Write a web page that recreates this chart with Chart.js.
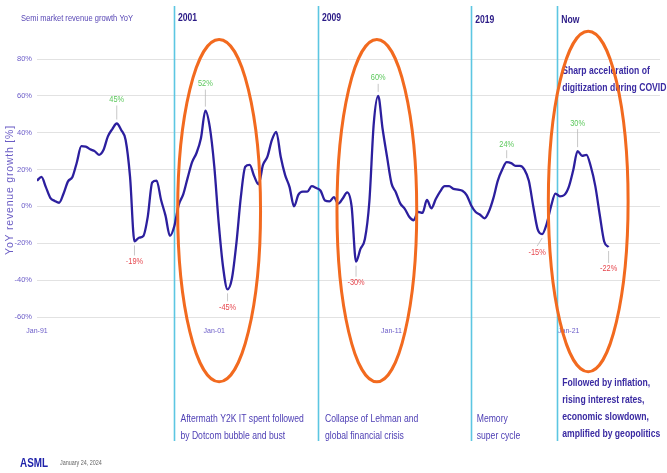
<!DOCTYPE html>
<html>
<head>
<meta charset="utf-8">
<script src="https://cdn.jsdelivr.net/npm/chart.js@4/dist/chart.umd.min.js"></script>
<style>
  html, body { margin: 0; padding: 0; background: #ffffff; }
  #wrap { width: 667px; height: 473px; position: relative; }
</style>
</head>
<body>
<div id="wrap"><canvas id="chart" width="667" height="473"></canvas></div>
<script>
// Semiconductor market revenue growth, year over year (%), one value per quarter from Jan-91
const growth = [
  14, 16, 10.5, 4.7, 3, 2, 7, 13.6, 16, 24,
  32.7, 32.5, 31, 30, 28, 30.6, 38, 42, 45, 41.5,
  36, 16, -19, -17, -16, -5.5, 13, 14, 3.5, -5,
  -16, -10.6, 1, 6.5, 15.5, 24, 29, 37, 52, 43,
  22, -8.8, -33, -45, -39, -20, 5, 21.5, 22.5, 16.5,
  12, 22.5, 27, 36, 40.5, 27, 17, 10.5, 0, 6.4,
  8, 8, 11, 10, 8.5, 3.2, 2.7, 5, 1.5, 4.3,
  7.6, 0, -30, -23, -17.7, 2.4, 45, 60, 42, 26.9,
  12.5, 7.6, 1.5, -1.3, -5.6, -7.5, -3, -3.5, 3.5, -1,
  4, 8.2, 11, 11, 9.5, 9.1, 8.5, 6, 0.5, -3,
  -4.5, -6.5, -2.7, 4.5, 14, 20, 24, 23.5, 22, 22,
  20, 13.9, 0, -12.5, -15, -9.7, 0, 7, 5.5, 6.2,
  10.5, 19.5, 30, 27.5, 28, 21.5, 11, -4.5, -19, -22
];

// Axis ticks (x in quarters since Jan-91)
const xTickValues = [0, 40, 80, 120];
const xTickLabels = ['Jan-91', 'Jan-01', 'Jan-11', 'Jan-21'];
const yTickValues = [-60, -40, -20, 0, 20, 40, 60, 80];

// Quarters whose values are called out on the curve
const calloutIndex = [18, 22, 38, 43, 72, 77, 106, 114, 122, 129];

// Era markers: label and quarter position of each divider
const eraLabels = ['2001', '2009', '2019', 'Now'];
const eraPositions = [30.9, 63.4, 98.0, 117.4];

const INDIGO = '#2c1f9e';
const TICK_COLOR = '#6b5cc8';
const SANS = "'Liberation Sans', Arial, sans-serif";
const NARROW = 0.82; // horizontal squeeze for the condensed slide typeface

Chart.defaults.font.family = SANS;

const points = growth.map((v, i) => ({ x: i, y: v }));

// Styling of the callout labels (pixel offsets from the point)
const calloutStyle = {
  18: { dy: 24 }, 22: { dy: 20 }, 38: { dy: 27 }, 43: { dy: 18 },
  72: { dy: 21 }, 77: { dy: 18 }, 106: { dy: 18 }, 114: { dy: 18, dx: -5 },
  122: { dy: 28 }, 129: { dy: 22 }
};

// Highlight ellipses, in axis units: centre (quarter, %), radii (quarters, %)
const highlights = [
  { cx: 41.1, cy: -2.3, rx: 9.35, ry: 92.9 },
  { cx: 76.7, cy: -2.3, rx: 9.0, ry: 92.9 },
  { cx: 124.4, cy: 2.7, rx: 9.0, ry: 92.4 }
];

const textBlocks = [
  { era: 0, dx: 6.5, y: 419, bold: false, lines: ['Aftermath Y2K IT spent followed', 'by Dotcom bubble and bust'] },
  { era: 1, dx: 7, y: 419, bold: false, lines: ['Collapse of Lehman and', 'global financial crisis'] },
  { era: 2, dx: 5.5, y: 419, bold: false, lines: ['Memory', 'super cycle'] },
  { era: 3, dx: 5, y: 383, bold: true, lines: ['Followed by inflation,', 'rising interest rates,', 'economic slowdown,', 'amplified by geopolitics'] },
  { era: 3, dx: 5, y: 71, bold: true, lines: ['Sharp acceleration of', 'digitization during COVID'] }
];

function condensed(ctx, text, x, y, squeeze) {
  ctx.save();
  ctx.translate(x, y);
  ctx.scale(squeeze, 1);
  ctx.fillText(text, 0, 0);
  ctx.restore();
}

const eraDividers = {
  id: 'eraDividers',
  beforeDatasetsDraw(chart) {
    const { ctx, scales: { x } } = chart;
    ctx.save();
    ctx.strokeStyle = '#5cc6e2';
    ctx.lineWidth = 1.6;
    eraPositions.forEach(p => {
      const px = Math.round(x.getPixelForValue(p)) + 0.5;
      ctx.beginPath();
      ctx.moveTo(px, 6);
      ctx.lineTo(px, 441);
      ctx.stroke();
    });
    ctx.restore();
  }
};

const callouts = {
  id: 'callouts',
  afterDatasetsDraw(chart) {
    const { ctx, scales: { x, y } } = chart;
    ctx.save();
    ctx.font = '9px ' + SANS;
    ctx.textAlign = 'center';
    ctx.textBaseline = 'middle';
    calloutIndex.forEach(i => {
      const v = growth[i];
      const st = calloutStyle[i] || { dy: 22 };
      const dir = v >= 0 ? -1 : 1;
      const px = x.getPixelForValue(i);
      const py = y.getPixelForValue(v);
      const lx = px + (st.dx || 0);
      const ly = py + dir * st.dy;
      ctx.strokeStyle = '#b9b9b9';
      ctx.lineWidth = 0.8;
      ctx.beginPath();
      ctx.moveTo(px, py + dir * 4);
      ctx.lineTo(lx, ly - dir * 6);
      ctx.stroke();
      ctx.fillStyle = v >= 0 ? '#5cc85c' : '#e6484f';
      condensed(ctx, v + '%', lx, ly, NARROW);
    });
    ctx.restore();
  }
};

const annotations = {
  id: 'annotations',
  afterDraw(chart) {
    const { ctx, scales: { x, y } } = chart;
    ctx.save();

    // header
    ctx.textBaseline = 'middle';
    ctx.textAlign = 'left';
    ctx.fillStyle = '#5847b5';
    ctx.font = '9.2px ' + SANS;
    condensed(ctx, 'Semi market revenue growth YoY', 21, 18, NARROW);

    // era labels
    ctx.fillStyle = '#2a1a86';
    ctx.font = 'bold 10.5px ' + SANS;
    eraLabels.forEach((lab, k) => {
      const px = x.getPixelForValue(eraPositions[k]);
      condensed(ctx, lab, px + 4, k < 2 ? 18 : 20, NARROW);
    });

    // y axis title
    ctx.save();
    ctx.translate(10, 190);
    ctx.rotate(-Math.PI / 2);
    ctx.textAlign = 'center';
    ctx.fillStyle = '#6a5cc4';
    ctx.font = '10.5px ' + SANS;
    if ('letterSpacing' in ctx) ctx.letterSpacing = '0.8px';
    ctx.fillText('YoY revenue growth [%]', 0, 0);
    ctx.restore();

    // descriptive text blocks
    textBlocks.forEach(b => {
      const px = x.getPixelForValue(eraPositions[b.era]) + b.dx;
      ctx.font = (b.bold ? 'bold ' : '') + '10.5px ' + SANS;
      ctx.fillStyle = b.bold ? '#3a2aa2' : '#4d3eb4';
      b.lines.forEach((ln, j) => condensed(ctx, ln, px, b.y + j * 17.2, NARROW));
    });

    // highlight ellipses
    ctx.strokeStyle = '#f26a1f';
    ctx.lineWidth = 3;
    highlights.forEach(h => {
      const cx = x.getPixelForValue(h.cx);
      const cy = y.getPixelForValue(h.cy);
      const rx = Math.abs(x.getPixelForValue(h.cx + h.rx) - cx);
      const ry = Math.abs(y.getPixelForValue(h.cy + h.ry) - cy);
      ctx.beginPath();
      ctx.ellipse(cx, cy, rx, ry, 0, 0, Math.PI * 2);
      ctx.stroke();
    });

    // footer
    ctx.fillStyle = '#1f22aa';
    ctx.font = 'bold 13px ' + SANS;
    condensed(ctx, 'ASML', 20, 463, 0.76);
    ctx.fillStyle = '#666666';
    ctx.font = '6.6px ' + SANS;
    condensed(ctx, 'January 24, 2024', 60, 463, NARROW);

    ctx.restore();
  }
};

new Chart(document.getElementById('chart'), {
  type: 'line',
  data: {
    datasets: [{
      data: points,
      borderColor: INDIGO,
      borderWidth: 2.3,
      pointRadius: 0,
      cubicInterpolationMode: 'monotone',
      fill: false
    }]
  },
  options: {
    responsive: false,
    animation: false,
    events: [],
    layout: { padding: { top: 59, right: 7, left: 0, bottom: 0 } },
    plugins: { legend: { display: false }, tooltip: { enabled: false } },
    scales: {
      x: {
        type: 'linear',
        min: 0,
        max: 140.6,
        grid: { display: false, drawTicks: false },
        border: { display: false },
        afterBuildTicks: s => { s.ticks = xTickValues.map(v => ({ value: v })); },
        afterFit: s => { s.height = 156; },
        ticks: {
          autoSkip: false,
          maxRotation: 0,
          padding: 10,
          color: TICK_COLOR,
          font: { size: 7 },
          callback: v => xTickLabels[xTickValues.indexOf(v)]
        }
      },
      y: {
        min: -60,
        max: 80,
        grid: { color: '#e2e2e2', lineWidth: 1, drawTicks: false },
        border: { display: false },
        afterBuildTicks: s => { s.ticks = yTickValues.map(v => ({ value: v })); },
        afterFit: s => { s.width = 37; },
        ticks: {
          padding: 5,
          color: TICK_COLOR,
          font: { size: 7.5 },
          callback: v => v + '%'
        }
      }
    }
  },
  plugins: [eraDividers, callouts, annotations]
});
</script>
</body>
</html>
